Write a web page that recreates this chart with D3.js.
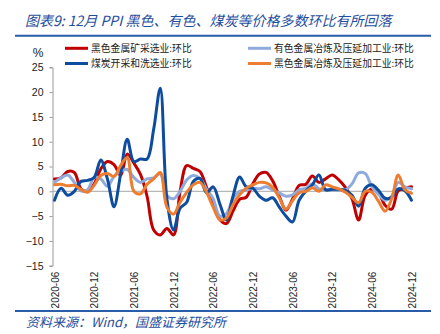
<!DOCTYPE html>
<html><head><meta charset="utf-8">
<script src="https://cdn.jsdelivr.net/npm/d3@7/dist/d3.min.js"></script>
<style>body{margin:0;background:#fff}svg{display:block}</style>
</head><body>
<svg id="c" width="440" height="334"></svg>
<script>
// Month-over-month % change, monthly from 2020-06 to 2024-12
const tickLabels = ["2020-06","2020-12","2021-06","2021-12","2022-06","2022-12","2023-06","2023-12","2024-06","2024-12"];
const yTicks = [-15,-10,-5,0,5,10,15,20,25];
const seriesNames = ["黑色金属矿采选业:环比","有色金属冶炼及压延加工业:环比","煤炭开采和洗选业:环比","黑色金属冶炼及压延加工业:环比"];
const seriesColors = ["#C00000","#8FAADC","#0D4C9E","#ED7D31"];
const ferrousMining = [2.5,2.7,4.0,3.8,0.5,0.0,1.5,4.5,6.0,5.4, 3.2,7.5,5.7,3.4,-1.0,-7.8,-8.8,-7.5,-8.8,0.0, 5.2,4.6,4.0,0.8,-2.5,-5.7,-6.5,-4.0,-1.6,-1.2, 1.5,3.5,3.8,2.1,-1.0,-3.8,-1.6,1.2,1.4,3.1, 1.8,2.5,3.3,2.3,0.8,-1.5,-5.8,-0.8,0.4,-0.3, -2.8,-3.6,0.1,0.6,0.9];
const nonferrousSmelting = [1.8,2.7,3.3,1.8,0.1,0.3,2.8,2.5,1.0,3.0, 4.0,4.4,2.8,1.8,2.5,2.7,3.5,-0.8,-1.5,0.0, 2.3,3.2,2.6,0.4,-1.5,-5.0,-4.5,-1.5,0.0,0.2, 0.6,0.5,0.9,0.3,-0.3,-1.0,-0.7,0.3,0.6,1.5, 0.5,0.3,0.3,0.2,0.3,1.5,3.7,3.6,0.9,-0.6, -1.8,-1.0,1.8,0.9,0.5];
const coalMining = [-1.8,0.6,-0.8,0.0,2.0,2.2,2.8,6.3,2.5,-3.1, 3.5,10.5,6.0,6.5,6.5,12.5,20.8,-1.5,-7.8,-3.4, -2.2,2.0,2.6,-0.3,0.9,-2.5,-5.8,-1.0,2.9,0.9, 0.6,-1.0,-1.8,-1.3,-3.2,-5.0,-6.2,-1.8,0.0,1.3, 3.3,0.3,0.4,0.4,0.2,-0.8,-3.0,0.6,1.3,0.2, -1.4,-1.2,0.5,0.1,-1.8];
const ferrousSmelting = [1.3,1.4,1.1,1.2,0.4,-0.2,1.2,3.2,3.6,3.0, 5.2,6.8,0.0,-0.5,1.4,2.5,3.8,-3.2,-4.6,-2.2, -0.2,1.3,1.8,-0.2,-3.2,-5.7,-5.4,-2.7,-0.7,0.6, 1.3,1.8,1.7,0.8,-1.3,-3.6,-1.9,-0.3,0.0,0.7, 0.0,1.3,0.9,0.5,-0.2,-1.2,-2.3,0.0,-0.2,-2.0, -4.0,-1.5,3.3,0.3,-0.4];
const allSeries = [ferrousMining, nonferrousSmelting, coalMining, ferrousSmelting];

const svg = d3.select("#c");
svg.append("rect").attr("width",440).attr("height",334).attr("fill","#fff");
const blue = "#1F4E9E";
const cjk = "'Noto Sans CJK SC','Noto Sans',sans-serif";
const num = "'Liberation Sans',Arial,sans-serif";

// Title and rules
svg.append("text").attr("x",25).attr("y",26).attr("font-family",cjk).attr("font-size",14)
  .attr("font-style","italic").attr("fill",blue).text("图表9: 12月 PPI 黑色、有色、煤炭等价格多数环比有所回落");
svg.append("line").attr("x1",15).attr("x2",431).attr("y1",35.7).attr("y2",35.7).attr("stroke","#2A5CAA").attr("stroke-width",2);
svg.append("line").attr("x1",15).attr("x2",431).attr("y1",311).attr("y2",311).attr("stroke","#2A5CAA").attr("stroke-width",2);
svg.append("text").attr("x",26).attr("y",326.5).attr("font-family",cjk).attr("font-size",13)
  .attr("font-style","italic").attr("fill",blue).text("资料来源：Wind，国盛证券研究所");

const n = coalMining.length;
const x = d3.scaleLinear().domain([0, n-1]).range([54.5, 411.5]);
const y = d3.scaleLinear().domain([-15, 25]).range([265.7, 67.3]);
const axisX = 52.5;

// Y axis
const ya = svg.append("g").attr("transform",`translate(${axisX},0)`)
  .call(d3.axisLeft(y).tickValues(yTicks).tickSize(3).tickPadding(6).tickFormat(d3.format("d")));
ya.select(".domain").attr("stroke","#9a9a9a");
ya.selectAll(".tick line").attr("stroke","#9a9a9a");
ya.selectAll("text").attr("font-family",num).attr("font-size",10.5).attr("fill","#222");
svg.append("text").attr("x",38).attr("y",57).attr("text-anchor","middle").attr("font-family",num)
  .attr("font-size",12).attr("fill","#222").text("%");

// zero line
svg.append("line").attr("x1",axisX).attr("x2",x(n-1)).attr("y1",y(0)).attr("y2",y(0))
  .attr("stroke","#a6a6a6").attr("stroke-width",1);

// X axis labels
const xa = svg.append("g").attr("transform",`translate(0,${y(-15)})`)
  .call(d3.axisBottom(x).tickValues(d3.range(0, n, 6)).tickSize(0).tickFormat((d,i)=>tickLabels[i]));
xa.select(".domain").remove();
xa.selectAll("text").attr("transform","rotate(-90)").attr("x",-6).attr("y",0).attr("dy","0.35em")
  .attr("text-anchor","end").attr("font-family",num).attr("font-size",10).attr("fill","#222");

// Lines
const line = d3.line().x((d,i)=>x(i)).y(d=>y(d)).curve(d3.curveCatmullRom.alpha(0.5));
allSeries.forEach((s,k)=>{
  svg.append("path").datum(s).attr("d",line).attr("fill","none")
    .attr("stroke",seriesColors[k]).attr("stroke-width",3).attr("stroke-linejoin","round").attr("stroke-linecap","round");
});

// Legend
const legPos = [[65,48.3],[248,48.3],[65,63.5],[248,63.5]];
seriesNames.forEach((name,k)=>{
  const [lx,ly] = legPos[k];
  svg.append("line").attr("x1",lx).attr("x2",lx+23).attr("y1",ly).attr("y2",ly)
    .attr("stroke",seriesColors[k]).attr("stroke-width",3);
  svg.append("text").attr("x",lx+26).attr("y",ly).attr("dy","0.35em").attr("font-family",cjk)
    .attr("font-size",9.8).attr("fill","#222").text(name);
});
</script>
</body></html>
